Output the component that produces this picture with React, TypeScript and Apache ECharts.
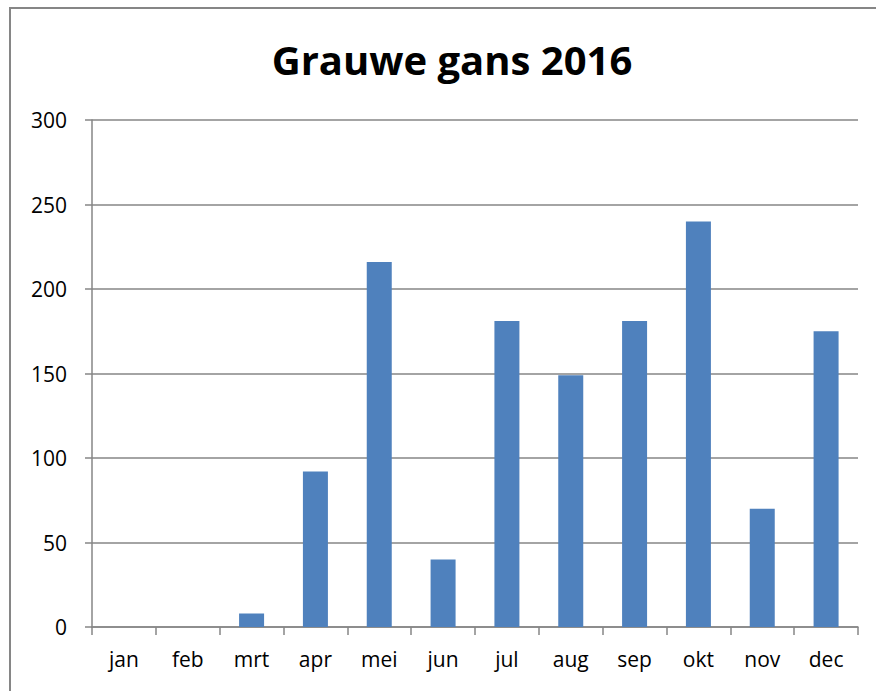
import React, { useEffect, useRef } from "react";
import * as echarts from "echarts";

const TITLE = "Grauwe gans 2016";
const MONTHS = ["jan", "feb", "mrt", "apr", "mei", "jun", "jul", "aug", "sep", "okt", "nov", "dec"];
const COUNTS = [0, 0, 8, 92, 216, 40, 181, 149, 181, 240, 70, 175];
const Y_MIN = 0;
const Y_MAX = 300;
const Y_STEP = 50;

export default function App() {
  const ref = useRef<HTMLDivElement>(null);
  useEffect(() => {
    if (!ref.current) return;
    const chart = echarts.init(ref.current, undefined, { renderer: "svg" });
    const font = "'Open Sans', 'Noto Sans', sans-serif";
    chart.setOption({
      animation: false,
      backgroundColor: "#ffffff",
      title: {
        text: TITLE,
        left: 447,
        textAlign: "center",
        top: 34,
        textStyle: { fontFamily: font, fontWeight: "bold", fontSize: 40, color: "#000" },
      },
      graphic: [
        {
          type: "rect",
          shape: { x: 10, y: 8, width: 1000, height: 1000 },
          style: { fill: "none", stroke: "#868686", lineWidth: 2 },
          silent: true,
          z: 100,
        },
      ],
      grid: { left: 92, right: 18, top: 120, bottom: 64, containLabel: false },
      xAxis: {
        type: "category",
        data: MONTHS,
        axisLine: { show: true, lineStyle: { color: "#868686", width: 1.5 } },
        axisTick: { show: true, length: 8, lineStyle: { color: "#868686", width: 1.5 } },
        axisLabel: { fontFamily: font, fontSize: 21, color: "#000", margin: 21, interval: 0 },
      },
      yAxis: {
        type: "value",
        min: Y_MIN,
        max: Y_MAX,
        interval: Y_STEP,
        axisLine: { show: true, lineStyle: { color: "#868686", width: 1.5 } },
        axisTick: { show: true, length: 7, lineStyle: { color: "#868686", width: 1.5 } },
        axisLabel: { fontFamily: font, fontSize: 21, color: "#000", margin: 25 },
        splitLine: { show: true, lineStyle: { color: "#868686", width: 1.5 } },
      },
      series: [
        {
          type: "bar",
          data: COUNTS,
          barWidth: 25,
          itemStyle: { color: "#4F81BD" },
        },
      ],
    });
    return () => chart.dispose();
  }, []);
  return (
    <div
      ref={ref}
      style={{ position: "fixed", left: 0, top: 0, width: 876, height: 691, background: "#fff" }}
    />
  );
}
